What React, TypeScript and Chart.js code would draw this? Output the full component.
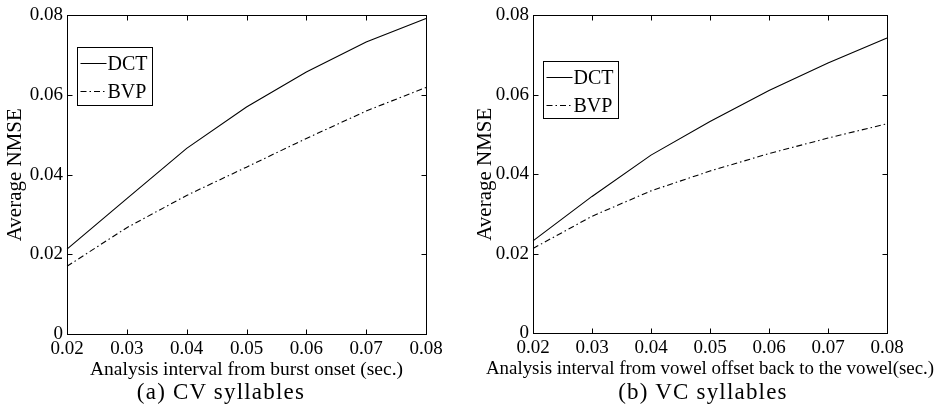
import React, { useEffect, useRef } from "react";
import { Chart, registerables } from "chart.js";
Chart.register(...registerables);

const xLabels = ["0.02", "0.03", "0.04", "0.05", "0.06", "0.07", "0.08"];
const yTickValues = [0, 0.02, 0.04, 0.06, 0.08];
const seriesNames = ["DCT", "BVP"];
const cvDCT = [0.0213, 0.034, 0.0466, 0.057, 0.0658, 0.0733, 0.0792];
const cvBVP = [0.017, 0.0267, 0.0348, 0.0419, 0.0491, 0.056, 0.0619];
const vcDCT = [0.0232, 0.0344, 0.0448, 0.0533, 0.0611, 0.068, 0.0743];
const vcBVP = [0.0213, 0.0294, 0.0358, 0.0408, 0.0452, 0.0491, 0.0527];
const yTitle = "Average NMSE";
const cvXTitle = "Analysis interval from burst onset (sec.)";
const vcXTitle = "Analysis interval from vowel offset back to the vowel(sec.)";
const cvCaption = "(a)  CV syllables";
const vcCaption = "(b)  VC syllables";

const FONT = "'Liberation Serif', 'Times New Roman', serif";

const frameLegendPlugin = {
  id: "frameLegend",
  afterDatasetsDraw(chart: any, _args: any, opts: any) {
    const { ctx, chartArea: a, scales } = chart;
    ctx.save();
    ctx.strokeStyle = "#000";
    ctx.lineWidth = 1;
    const L = Math.round(a.left) + 0.5;
    const R = Math.round(a.right) + 0.5;
    const T = Math.round(a.top) + 0.5;
    const B = Math.round(a.bottom) + 0.5;
    ctx.strokeRect(L, T, R - L, B - T);
    const tl = 5;
    ctx.beginPath();
    scales.x.ticks.forEach((_t: any, i: number) => {
      const px = Math.round(scales.x.getPixelForTick(i)) + 0.5;
      ctx.moveTo(px, B);
      ctx.lineTo(px, B - tl);
      ctx.moveTo(px, T);
      ctx.lineTo(px, T + tl);
    });
    scales.y.ticks.forEach((_t: any, i: number) => {
      const py = Math.round(scales.y.getPixelForTick(i)) + 0.5;
      ctx.moveTo(L, py);
      ctx.lineTo(L + tl, py);
      ctx.moveTo(R, py);
      ctx.lineTo(R - tl, py);
    });
    ctx.stroke();

    // x-axis title (drawn unscaled, may be wider than the plot)
    ctx.fillStyle = "#000";
    ctx.font = `${opts.xTitleSize}px ${FONT}`;
    ctx.textAlign = "center";
    ctx.textBaseline = "middle";
    ctx.fillText(opts.xTitle, (a.left + a.right) / 2, a.bottom + opts.xTitleGap);

    // legend box
    const bx = Math.round(a.left + opts.dx) + 0.5;
    const by = Math.round(a.top + opts.dy) + 0.5;
    const bw = opts.w;
    const bh = opts.h;
    ctx.fillStyle = "#fff";
    ctx.fillRect(bx, by, bw, bh);
    ctx.strokeRect(bx, by, bw, bh);
    ctx.font = `20px ${FONT}`;
    ctx.textBaseline = "middle";
    ctx.textAlign = "left";
    chart.data.datasets.forEach((ds: any, i: number) => {
      const rowY = Math.round(by + 15 + i * 28) + 0.5;
      ctx.beginPath();
      ctx.setLineDash(ds.borderDash || []);
      ctx.strokeStyle = ds.borderColor;
      ctx.lineWidth = 1;
      ctx.moveTo(bx + 3, rowY);
      ctx.lineTo(bx + 29, rowY);
      ctx.stroke();
      ctx.setLineDash([]);
      ctx.fillStyle = "#000";
      ctx.fillText(ds.label, bx + 30, rowY + 1);
    });
    ctx.restore();
  },
};

type PanelProps = {
  x: number;
  width: number;
  area: { left: number; top: number; right: number; bottom: number };
  dct: number[];
  bvp: number[];
  xTitle: string;
  xTitleSize: number;
  caption: string;
  captionX: number;
  legend: { dx: number; dy: number; w: number; h: number };
};

function Panel(p: PanelProps) {
  const ref = useRef<HTMLCanvasElement | null>(null);
  const H = 409;
  useEffect(() => {
    if (!ref.current) return;
    const xAxisHeight = 381 - p.area.bottom;
    const chart = new Chart(ref.current, {
      type: "line",
      data: {
        labels: xLabels,
        datasets: [
          {
            label: seriesNames[0],
            data: p.dct,
            borderColor: "#000",
            borderWidth: 1.1,
            pointRadius: 0,
            tension: 0,
            fill: false,
          },
          {
            label: seriesNames[1],
            data: p.bvp,
            borderColor: "#000",
            borderWidth: 1.1,
            borderDash: [6, 3, 1.5, 3],
            pointRadius: 0,
            tension: 0,
            fill: false,
          },
        ],
      },
      options: {
        responsive: false,
        animation: false,
        devicePixelRatio: 1,
        layout: {
          padding: { left: 0, top: p.area.top, right: p.width - p.area.right, bottom: H - 381 },
        },
        plugins: {
          legend: { display: false },
          tooltip: { enabled: false },
          frameLegend: { ...p.legend, xTitle: p.xTitle, xTitleGap: 36, xTitleSize: p.xTitleSize },
        } as any,
        scales: {
          x: {
            type: "category",
            offset: false,
            grid: { display: false, drawTicks: false },
            border: { display: false },
            ticks: { color: "#000", font: { family: FONT, size: 19 }, padding: 4, maxRotation: 0, autoSkip: false },
            title: { display: false },
            afterFit: (s: any) => {
              s.height = xAxisHeight;
            },
          },
          y: {
            type: "linear",
            min: 0,
            max: 0.08,
            grid: { display: false, drawTicks: false },
            border: { display: false },
            ticks: {
              color: "#000",
              font: { family: FONT, size: 19 },
              padding: 4,
              stepSize: 0.02,
              callback: (v: any) => {
                const n = Number(v);
                const match = yTickValues.find((t) => Math.abs(t - n) < 1e-9);
                if (match === undefined) return "";
                return match === 0 ? "0" : match.toFixed(2);
              },
            },
            title: { display: true, text: yTitle, color: "#000", font: { family: FONT, size: 21 }, padding: { top: 3, bottom: 0 } },
            afterFit: (s: any) => {
              s.width = p.area.left;
            },
          },
        },
      },
      plugins: [frameLegendPlugin as any],
    });
    return () => chart.destroy();
  }, []);
  return (
    <div style={{ position: "absolute", left: p.x, top: 0, width: p.width, height: H }}>
      <canvas ref={ref} width={p.width} height={H} style={{ width: p.width, height: H, display: "block" }} />
      <div
        style={{
          position: "absolute",
          left: p.captionX,
          top: 379,
          transform: "translateX(-50%)",
          whiteSpace: "nowrap",
          fontFamily: FONT,
          fontSize: 23,
          lineHeight: "26px",
          letterSpacing: "1.2px",
          color: "#000",
        }}
      >
        {p.caption}
      </div>
    </div>
  );
}

export default function App() {
  return (
    <div style={{ position: "fixed", left: 0, top: 0, width: 938, height: 409, background: "#fff", overflow: "hidden" }}>
      <Panel
        x={0}
        width={470}
        area={{ left: 67, top: 12, right: 426, bottom: 334 }}
        dct={cvDCT}
        bvp={cvBVP}
        xTitle={cvXTitle}
        xTitleSize={19.5}
        caption={cvCaption}
        captionX={221}
        legend={{ dx: 10, dy: 32, w: 75, h: 58 }}
      />
      <Panel
        x={470}
        width={468}
        area={{ left: 63, top: 12, right: 417, bottom: 333 }}
        dct={vcDCT}
        bvp={vcBVP}
        xTitle={vcXTitle}
        xTitleSize={18.9}
        caption={vcCaption}
        captionX={233}
        legend={{ dx: 10, dy: 46, w: 75, h: 57 }}
      />
    </div>
  );
}
